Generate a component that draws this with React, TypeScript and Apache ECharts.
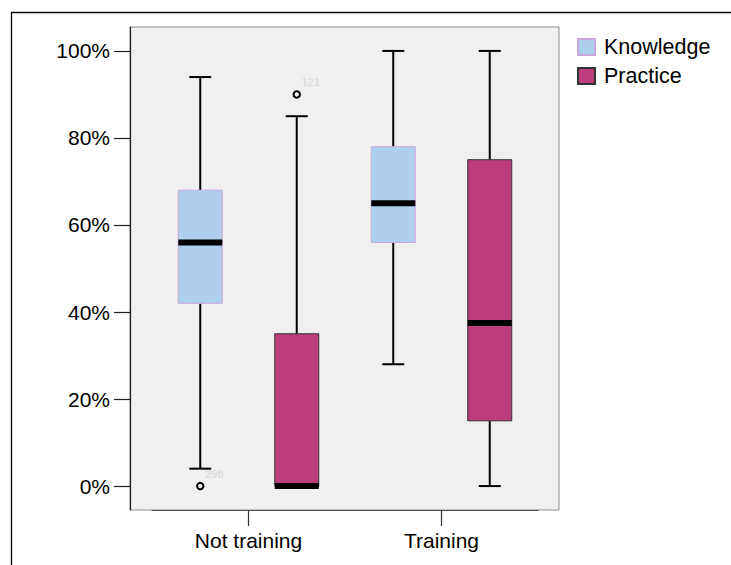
import React, { useEffect, useRef } from "react";
import * as echarts from "echarts";

// ---- data (percent) ----
const categories = ["Not training", "Training"];
const seriesNames = ["Knowledge", "Practice"];
// [min, q1, median, q3, max] per category
const knowledgeBoxes = [
  [4, 42, 56, 68, 94],
  [28, 56, 65, 78, 100],
];
const practiceBoxes = [
  [0, 0, 0, 35, 85],
  [0, 15, 37.5, 75, 100],
];
// outliers: [categoryIndex, value, seriesIndex]
const outlierPoints = [
  [0, 0, 0],
  [0, 90, 1],
];
const outlierLabels = ["298", "121"];
const yTicks = [0, 20, 40, 60, 80, 100];

const FONT = "'Liberation Sans', Arial, sans-serif";
const fills = ["#aed0ee", "#bb3e7a"];
const strokes = ["#c9a6dc", "#333333"];
const sides = [-1, 1];

function boxSeries(si: number, boxes: number[][]) {
  const fill = fills[si];
  const stroke = strokes[si];
  const side = sides[si];
  return {
    type: "custom",
    name: seriesNames[si],
    xAxisIndex: 1,
    yAxisIndex: 1,
    itemStyle: { color: fill, borderColor: stroke, borderWidth: 1 },
    encode: { x: 0, y: [1, 2, 3, 4, 5] },
    data: boxes.map((b, i) => [i, ...b]),
    renderItem: (params: any, api: any) => {
      const cat = api.value(0);
      const band = api.size([1, 0])[0];
      const cx = api.coord([cat, 0])[0] + (side * band) / 4;
      const w = band * 0.228;
      const y = (k: number) => api.coord([cat, api.value(k)])[1];
      const yMin = y(1), yQ1 = y(2), yMed = y(3), yQ3 = y(4), yMax = y(5);
      const ln = (x1: number, y1: number, x2: number, y2: number) => ({
        type: "line",
        shape: { x1, y1, x2, y2 },
        style: { stroke: "#000", lineWidth: 2 },
      });
      return {
        type: "group",
        children: [
          ln(cx, yQ3, cx, yMax),
          ln(cx - w / 4, yMax, cx + w / 4, yMax),
          ln(cx, yQ1, cx, yMin),
          ln(cx - w / 4, yMin, cx + w / 4, yMin),
          {
            type: "rect",
            shape: { x: cx - w / 2, y: yQ3, width: w, height: yQ1 - yQ3 },
            style: { fill, stroke, lineWidth: 1 },
          },
          {
            type: "rect",
            shape: { x: cx - w / 2, y: yMed - 3, width: w, height: 6 },
            style: { fill: "#000" },
          },
        ],
      };
    },
  };
}

export default function App() {
  const ref = useRef<HTMLDivElement>(null);
  useEffect(() => {
    if (!ref.current) return;
    const chart = echarts.init(ref.current, undefined, { renderer: "svg" });
    chart.setOption({
      animation: false,
      backgroundColor: "#ffffff",
      textStyle: { fontFamily: FONT },
      graphic: [
        {
          type: "rect",
          shape: { x: 11.5, y: 12.5, width: 760, height: 600 },
          style: { fill: "none", stroke: "#000", lineWidth: 1.3 },
          silent: true,
        },
      ],
      legend: {
        orient: "vertical",
        left: 577,
        top: 36,
        padding: 0,
        icon: "rect",
        itemWidth: 17,
        itemHeight: 16,
        itemGap: 7,
        data: seriesNames,
        textStyle: { fontSize: 21.5, color: "#000", fontFamily: FONT, padding: [0, 0, 0, 4] },
        selectedMode: false,
      },
      grid: [
        {
          left: 130,
          right: 172,
          top: 27,
          bottom: 55,
          show: true,
          backgroundColor: "#f0f0f0",
          borderColor: "#8c8c8c",
          borderWidth: 1,
        },
        { left: 152, right: 193, top: 27, bottom: 55 },
      ],
      xAxis: [
        { gridIndex: 0, type: "value", show: false, min: 0, max: 1 },
        {
          gridIndex: 1,
          type: "category",
          data: categories,
          axisLine: { show: true, onZero: false, lineStyle: { color: "#555", width: 1.2 } },
          axisTick: { show: true, alignWithLabel: true, length: 16, lineStyle: { color: "#333", width: 1.2 } },
          axisLabel: { fontSize: 21, color: "#000", margin: 20, fontFamily: FONT },
        },
      ],
      yAxis: [
        {
          gridIndex: 0,
          type: "value",
          min: -5.5,
          max: 105.5,
          axisLine: { show: true, lineStyle: { color: "#222", width: 1.2 } },
          axisTick: { show: true, length: 16, customValues: yTicks, lineStyle: { color: "#222", width: 1.2 } },
          axisLabel: {
            customValues: yTicks,
            formatter: (v: number) => `${v}%`,
            fontSize: 21,
            color: "#000",
            margin: 20,
            fontFamily: FONT,
          },
          splitLine: { show: false },
        },
        { gridIndex: 1, type: "value", min: -5.5, max: 105.5, show: false },
      ],
      series: [
        boxSeries(0, knowledgeBoxes),
        boxSeries(1, practiceBoxes),
        {
          type: "custom",
          name: "outliers",
          xAxisIndex: 1,
          yAxisIndex: 1,
          encode: { x: 0, y: 1 },
          data: outlierPoints,
          z: 5,
          renderItem: (params: any, api: any) => {
            const cat = api.value(0);
            const side = sides[api.value(2)];
            const band = api.size([1, 0])[0];
            const p = api.coord([cat, api.value(1)]);
            const cx = p[0] + (side * band) / 4;
            const cy = p[1];
            return {
              type: "group",
              children: [
                {
                  type: "circle",
                  shape: { cx, cy, r: 3.2 },
                  style: { fill: "#f0f0f0", stroke: "#000", lineWidth: 2 },
                },
                {
                  type: "text",
                  x: cx + 5,
                  y: cy - 12,
                  style: {
                    text: outlierLabels[params.dataIndex],
                    fill: "#d6d6d6",
                    fontSize: 11,
                    fontFamily: FONT,
                    align: "left",
                    verticalAlign: "middle",
                  },
                },
              ],
            };
          },
        },
      ],
    });
    return () => chart.dispose();
  }, []);
  return (
    <div
      ref={ref}
      style={{ position: "fixed", left: 0, top: 0, width: 731, height: 565 }}
    />
  );
}
